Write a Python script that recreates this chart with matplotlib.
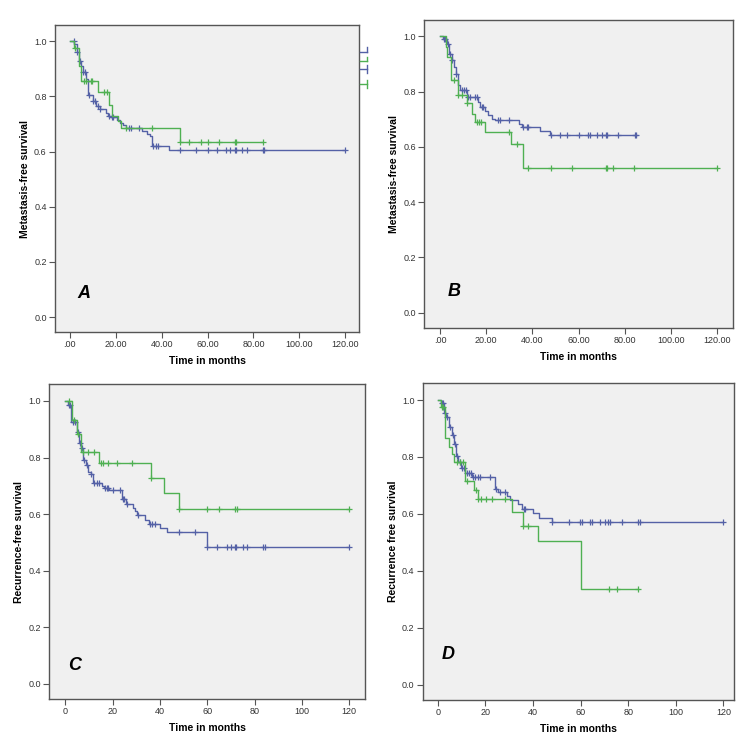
import numpy as np
import matplotlib
matplotlib.use('Agg')
import matplotlib.pyplot as plt
from matplotlib.lines import Line2D

plt.rcParams['font.family'] = ['Liberation Sans', 'DejaVu Sans']

BLUE = '#5461a6'
GREEN = '#4fb052'

# ---- panel A: metastasis-free survival ----
a_blue_t = [2.0, 3.0, 3.9, 5.0, 5.8, 7.0, 7.8, 10.0, 11.6, 13.0, 15.7, 16.7, 18.0, 20.4, 21.8, 23.3, 24.4, 31.3, 33.5, 35.0, 36.0, 43.0]
a_blue_s = [0.99, 0.96, 0.93, 0.91, 0.89, 0.864, 0.804, 0.785, 0.764, 0.754, 0.739, 0.731, 0.727, 0.715, 0.705, 0.695, 0.686, 0.675, 0.665, 0.655, 0.622, 0.606]
a_blue_c = [1.9, 3.2, 4.4, 5.8, 6.8, 8.3, 10.1, 11.1, 12.3, 13.2, 17.2, 18.2, 19.0, 25.7, 26.7, 30.2, 36.3, 37.5, 38.6,
            48, 55, 60, 64, 68, 70, 72, 72.4, 75, 77.2, 84.2, 84.8, 120]
a_green_t = [1.9, 3.9, 4.9, 12.1, 17.2, 18.3, 21.1, 22.1, 48.0]
a_green_s = [0.976, 0.91, 0.855, 0.816, 0.77, 0.731, 0.71, 0.687, 0.636]
a_green_c = [2.3, 6.1, 7.0, 9.0, 9.8, 14.9, 16.0, 24.4, 36.0, 48.0, 52, 57, 60, 65, 72, 72.4, 84]

# ---- panel B: metastasis-free survival ----
b_blue_t = [1.4, 2.9, 3.9, 5.0, 6.0, 7.0, 8.0, 8.7, 11.5, 16.6, 17.3, 19.5, 21.0, 22.4, 23.8, 34.0, 35.4, 43.3, 47.6]
b_blue_s = [0.99, 0.973, 0.935, 0.913, 0.89, 0.865, 0.823, 0.805, 0.78, 0.762, 0.745, 0.729, 0.715, 0.701, 0.696, 0.684, 0.672, 0.658, 0.642]
b_blue_c = [1.7, 2.2, 3.3, 4.3, 5.3, 7.0, 9.4, 10.2, 11.1, 12.3, 13.0, 15.1, 15.9, 18.0, 18.8, 25.0, 26.0, 30.0,
            36.0, 37.5, 38.0, 47.9, 52, 54.9, 60.1, 64.2, 64.9, 68.1, 70, 71.7, 72.1, 77.2, 84.4, 85]
b_green_t = [2.5, 3.2, 4.8, 7.9, 11.5, 13.7, 15.1, 19.6, 30.7, 36.0]
b_green_s = [0.96, 0.925, 0.843, 0.789, 0.757, 0.72, 0.69, 0.652, 0.612, 0.525]
b_green_c = [6.0, 8.0, 9.7, 11.8, 16.0, 17.0, 17.7, 29.9, 33.2, 38, 47.9, 57, 71.7, 72.3, 75, 84, 120]

# ---- panel C: recurrence-free survival ----
c_blue_t = [1.3, 2.4, 4.8, 5.8, 6.6, 7.6, 8.7, 9.7, 10.7, 11.5, 15.4, 16.3, 18.5, 23.8, 25.6, 28.7, 29.4, 30.4, 33.7, 35.5, 40.0, 42.8, 60.0]
c_blue_s = [0.985, 0.927, 0.889, 0.853, 0.833, 0.792, 0.772, 0.75, 0.741, 0.709, 0.70, 0.692, 0.686, 0.653, 0.636, 0.621, 0.61, 0.595, 0.579, 0.566, 0.55, 0.536, 0.485]
c_blue_c = [1.4, 2.0, 3.1, 3.9, 5.2, 6.1, 7.2, 8.0, 9.2, 11.0, 12.3, 13.2, 14.1, 16.8, 17.5, 17.9, 20.0, 23.1, 24.2, 24.8,
            25.9, 30.8, 35.8, 36.5, 37.9, 48, 55, 60, 64, 68.2, 70, 71.7, 72.3, 74.9, 76.9, 83.7, 84.4, 120]
c_green_t = [2.7, 5.0, 6.6, 14.1, 36.0, 41.8, 48.2]
c_green_s = [0.933, 0.882, 0.818, 0.78, 0.729, 0.674, 0.618]
c_green_c = [1.5, 3.5, 5.5, 7.3, 9.7, 12.1, 15, 16, 17.9, 22, 28, 36.0, 48.2, 60, 65, 71.8, 72.4, 120]

# ---- panel D: recurrence free survival ----
d_blue_t = [1.4, 2.7, 3.5, 4.8, 5.9, 6.9, 7.7, 8.7, 9.8, 11.5, 14.3, 24.1, 25.5, 29.0, 30.4, 33.9, 35.6, 40.2, 42.7, 47.9]
d_blue_s = [0.99, 0.956, 0.941, 0.906, 0.877, 0.846, 0.805, 0.781, 0.76, 0.742, 0.728, 0.688, 0.676, 0.664, 0.649, 0.634, 0.618, 0.602, 0.587, 0.57]
d_blue_c = [1.7, 2.4, 3.1, 3.8, 5.2, 6.3, 7.3, 8.3, 9.3, 10.3, 11.1, 12.2, 13.2, 14.0, 15.0, 15.7, 17.1, 17.8, 22.0,
            24.3, 26.2, 28.3, 36.1, 36.7, 48.2, 55.2, 59.8, 60.5, 64, 65, 68.2, 70.3, 71.7, 72.4, 77.3, 84, 85, 120]
d_green_t = [1.2, 3.1, 4.8, 5.9, 7.0, 11.5, 15.4, 16.8, 31.1, 35.7, 42.0, 60.2]
d_green_s = [0.974, 0.865, 0.836, 0.81, 0.781, 0.717, 0.684, 0.651, 0.605, 0.559, 0.503, 0.336]
d_green_c = [1.7, 2.4, 8.0, 9.4, 10.8, 12.2, 16.0, 17.1, 18.2, 20.3, 23.0, 28.3, 35.7, 38.1, 72.1, 75.2, 84]

x_ticks = [0, 20, 40, 60, 80, 100, 120]
y_ticks = [0.0, 0.2, 0.4, 0.6, 0.8, 1.0]
xlab_dec = ['.00', '20.00', '40.00', '60.00', '80.00', '100.00', '120.00']
xlab_int = ['0', '20', '40', '60', '80', '100', '120']


def km_curve(ax, t, s, cens, color):
    t = np.asarray(t)
    s = np.asarray(s)
    cens = np.asarray(cens)
    end = max(cens.max(), t.max())
    xs = np.r_[0, t, end]
    ys = np.r_[1.0, s, s[-1]]
    ax.step(xs, ys, where='post', color=color, lw=1.0)
    idx = np.searchsorted(t, cens, side='right')
    cy = np.r_[1.0, s][idx]
    ax.plot(cens, cy, ls='none', marker='+', ms=5, mew=0.9, color=color)


def style_axes(ax, xlim, ylabel, xlabels, letter, letter_pos):
    ax.set_facecolor('#f0f0f0')
    for sp in ax.spines.values():
        sp.set_color('#555555')
        sp.set_linewidth(1.0)
    ax.set_xlim(*xlim)
    ax.set_ylim(-0.054, 1.059)
    ax.set_xticks(x_ticks)
    ax.set_xticklabels(xlabels)
    ax.set_yticks(y_ticks)
    ax.set_yticklabels(['0.0', '0.2', '0.4', '0.6', '0.8', '1.0'])
    ax.tick_params(direction='out', length=4, width=0.8, color='#555555',
                   labelsize=6.5, labelcolor='#333333', pad=2)
    ax.set_xlabel('Time in months', fontsize=7.5, fontweight='bold', labelpad=5)
    ax.set_ylabel(ylabel, fontsize=7.5, fontweight='bold', labelpad=3)
    ax.text(letter_pos[0], letter_pos[1], letter, fontsize=13, fontweight='bold',
            fontstyle='italic', ha='center', va='center')


def main():
    fig = plt.figure(figsize=[7.5, 7.5], dpi=100)
    axA = fig.add_axes([0.0733, 0.5573, 0.4053, 0.4093])
    axB = fig.add_axes([0.5657, 0.5631, 0.4112, 0.4103])
    axC = fig.add_axes([0.0657, 0.0680, 0.4213, 0.4196])
    axD = fig.add_axes([0.5636, 0.0667, 0.4155, 0.4223])

    km_curve(axA, a_blue_t, a_blue_s, a_blue_c, BLUE)
    km_curve(axA, a_green_t, a_green_s, a_green_c, GREEN)
    km_curve(axB, b_blue_t, b_blue_s, b_blue_c, BLUE)
    km_curve(axB, b_green_t, b_green_s, b_green_c, GREEN)
    km_curve(axC, c_blue_t, c_blue_s, c_blue_c, BLUE)
    km_curve(axC, c_green_t, c_green_s, c_green_c, GREEN)
    km_curve(axD, d_blue_t, d_blue_s, d_blue_c, BLUE)
    km_curve(axD, d_green_t, d_green_s, d_green_c, GREEN)

    style_axes(axA, (-6.5, 126), 'Metastasis-free survival', xlab_dec, 'A', (6.1, 0.086))
    style_axes(axB, (-6.8, 126.7), 'Metastasis-free survival', xlab_dec, 'B', (6.1, 0.076))
    style_axes(axC, (-6.8, 126.8), 'Recurrence-free survival', xlab_int, 'C', (4.1, 0.066))
    style_axes(axD, (-6.3, 124.6), 'Recurrence free survival', xlab_int, 'D', (4.2, 0.105))

    # clipped legend fragments to the right of panel A
    def px(x, y):
        return x / 750.0, 1 - y / 750.0
    for yy, col, y0, y1 in [(51.7, BLUE, 47, 52), (60.7, GREEN, 57, 61),
                            (69.0, BLUE, 65, 73), (84.3, GREEN, 80, 88)]:
        xa, ya = px(360, yy)
        xb, _ = px(366.5, yy)
        fig.add_artist(Line2D([xa, xb], [ya, ya], color=col, lw=1.0))
        _, yt = px(0, y0)
        _, yb = px(0, y1)
        fig.add_artist(Line2D([xb, xb], [yt, yb], color=col, lw=1.0))

    fig.savefig('out.png', dpi=100)


if __name__ == "__main__":
    main()
